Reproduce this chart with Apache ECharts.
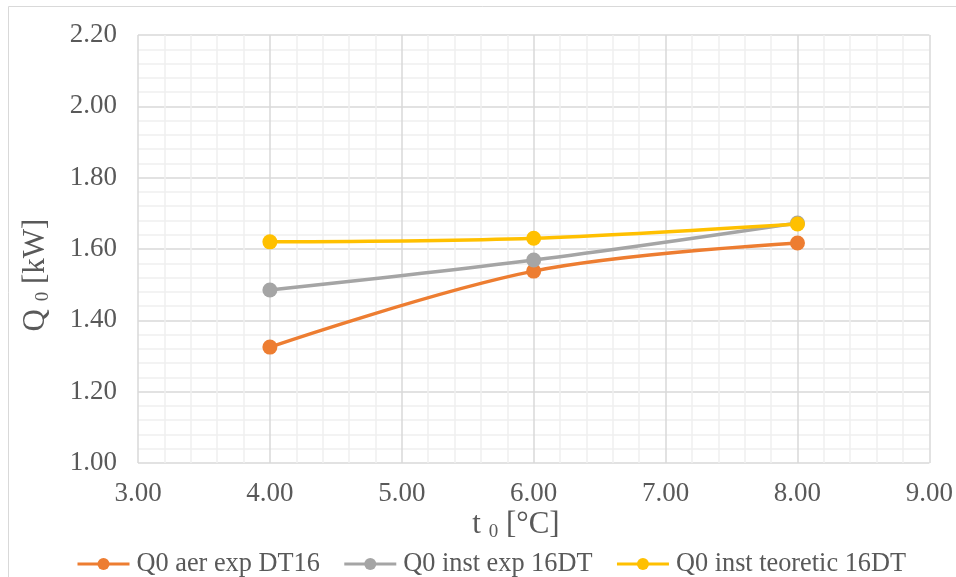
<!DOCTYPE html>
<html>
<head>
<meta charset="utf-8">
<script src="https://cdn.jsdelivr.net/npm/echarts@6/dist/echarts.min.js"></script>
<style>
  html, body { margin: 0; padding: 0; background: #fff; }
  #chart { width: 956px; height: 577px; }
</style>
</head>
<body>
<div id="chart"></div>
<script>
// Evaporator temperature t0 [°C]
const temps = [4, 6, 8];
// Cooling capacity Q0 [kW] per series
const q0AerExp = [1.325, 1.538, 1.617];
const q0InstExp = [1.485, 1.569, 1.673];
const q0InstTeor = [1.62, 1.63, 1.67];
const seriesNames = ['Q0 aer exp DT16', 'Q0 inst exp 16DT', 'Q0 inst teoretic 16DT'];
const seriesColors = ['#ED7D31', '#A5A5A5', '#FFC000'];

const FONT = '"Liberation Serif", "Times New Roman", serif';
const TXT = '#595959';

function pairs(xs, ys) { return xs.map((x, i) => [x, ys[i]]); }

const chart = echarts.init(document.getElementById('chart'), null, { renderer: 'canvas' });

const makeSeries = (name, values, color) => ({
  name: name,
  type: 'line',
  data: pairs(temps, values),
  smooth: 0.35,
  symbol: 'circle',
  symbolSize: 15,
  lineStyle: { color: color, width: 3.5 },
  itemStyle: { color: color },
  emphasis: { disabled: true }
});

const titleRich = {
  m: { fontFamily: FONT, fontSize: 31, fill: TXT },
  s: { fontFamily: FONT, fontSize: 19, fill: TXT, padding: [14, 0, 0, 0] }
};

chart.setOption({
  animation: false,
  backgroundColor: '#fff',
  textStyle: { fontFamily: FONT },
  graphic: [
    {
      type: 'rect',
      shape: { x: 8.5, y: 6.5, width: 960, height: 590 },
      style: { fill: 'none', stroke: '#d9d9d9', lineWidth: 1 },
      silent: true
    },
    {
      type: 'text',
      x: 36, y: 275,
      rotation: Math.PI / 2,
      style: {
        text: '{m|Q }{s|0}{m| [kW]}',
        align: 'center',
        verticalAlign: 'middle',
        rich: titleRich
      },
      silent: true
    },
    {
      type: 'text',
      x: 516, y: 525,
      style: {
        text: '{m|t }{s|0}{m| [°C]}',
        align: 'center',
        verticalAlign: 'middle',
        rich: titleRich
      },
      silent: true
    }
  ],
  grid: { left: 138, right: 25, top: 35, bottom: 114, containLabel: false },
  legend: {
    top: 546,
    left: 71,
    itemWidth: 52,
    itemHeight: 15,
    itemGap: 23,
    lineStyle: { width: 3 },
    textStyle: { fontFamily: FONT, fontSize: 26.3, color: TXT, padding: [0, 0, 0, 2] },
    data: seriesNames
  },
  xAxis: {
    type: 'value',
    min: 3, max: 9, interval: 1,
    axisLine: { show: false },
    axisTick: { show: false },
    axisLabel: {
      fontFamily: FONT, fontSize: 27, color: TXT, margin: 17,
      formatter: v => v.toFixed(2)
    },
    splitLine: { show: true, lineStyle: { color: '#d9d9d9', width: 1.5 } },
    minorTick: { show: false, splitNumber: 5 },
    minorSplitLine: { show: true, lineStyle: { color: '#f0f0f0', width: 1.5 } }
  },
  yAxis: {
    type: 'value',
    min: 1.0, max: 2.2, interval: 0.2,
    axisLine: { show: false },
    axisTick: { show: false },
    axisLabel: {
      fontFamily: FONT, fontSize: 27, color: TXT, margin: 21,
      formatter: v => v.toFixed(2)
    },
    splitLine: { show: true, lineStyle: { color: '#d9d9d9', width: 1.5 } },
    minorTick: { show: false, splitNumber: 5 },
    minorSplitLine: { show: true, lineStyle: { color: '#f0f0f0', width: 1.5 } }
  },
  series: [
    makeSeries(seriesNames[0], q0AerExp, seriesColors[0]),
    makeSeries(seriesNames[1], q0InstExp, seriesColors[1]),
    makeSeries(seriesNames[2], q0InstTeor, seriesColors[2])
  ]
});
</script>
</body>
</html>
